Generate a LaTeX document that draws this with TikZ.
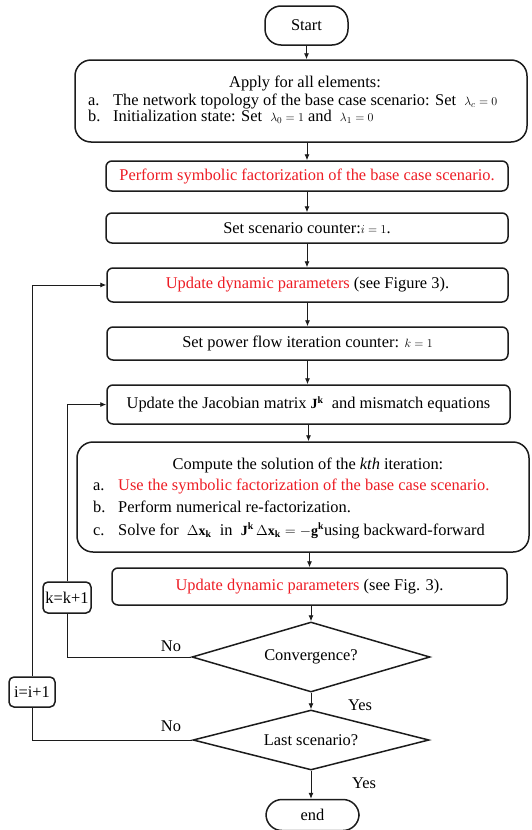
\documentclass[tikz,border=0pt]{standalone}
\usepackage{fontspec}
\setmainfont{Liberation Serif}
\usetikzlibrary{arrows.meta,shapes.geometric}
\definecolor{hl}{RGB}{237,28,36}
\definecolor{ink}{RGB}{28,28,28}
% smaller math inside the running text
\newcommand{\sm}[1]{{\fontsize{12.5}{13}\selectfont$#1$}}
\newcommand{\mm}[1]{{\fontsize{14}{14}\selectfont$#1$}}

\begin{document}
\begin{tikzpicture}[x=1pt,y=-1pt,
  every node/.style={font=\fontsize{16.4}{17}\selectfont, text=black},
  proc/.style={draw=ink, line width=1.5pt, rounded corners=6pt, inner sep=0pt, align=center},
  bigproc/.style={proc, rounded corners=16pt},
  term/.style={proc, rounded corners=16pt},
  counter/.style={proc, rounded corners=5pt},
  decision/.style={diamond, draw=ink, line width=1.5pt, inner sep=0pt, shape aspect=3.4},
  flow/.style={draw=ink, line width=0.9pt},
  arr/.style={flow, -{Latex[length=6pt,width=5pt]}},
  lbl/.style={inner sep=0pt}
]
\useasboundingbox (0,0) rectangle (532,830);

% terminals
\node[term, minimum width=83pt, minimum height=39pt] (start) at (306.5,25.5) {Start};
\node[term, minimum width=93pt, minimum height=31pt] (end) at (312.5,815) {end};

% initial block
\node[bigproc, minimum width=452pt, minimum height=82pt] (init) at (301,101) {};
\node[lbl, anchor=base] (initT) at (305,87) {Apply for all elements:};
\node[lbl, anchor=base west] (initAl) at (88,105.5) {a.};
\node[lbl, anchor=base west] (initA) at (113,105.5) {The network topology of the base case scenario: Set \ \sm{\lambda_c = 0}};
\node[lbl, anchor=base west] (initBl) at (88,121.5) {b.};
\node[lbl, anchor=base west] (initB) at (113,121.5) {Initialization state: Set \ \sm{\lambda_0 = 1}\ and \ \sm{\lambda_1 = 0}};

\node[proc, minimum width=402pt, minimum height=30pt, text=hl] (symb) at (307,176)
  {Perform symbolic factorization of the base case scenario.};
\node[proc, minimum width=402pt, minimum height=30pt] (scen) at (307,228)
  {Set scenario counter:\sm{i=1}.};
\node[proc, minimum width=401pt, minimum height=34pt] (dyn) at (307.5,285)
  {\textcolor{hl}{Update dynamic parameters} (see Figure 3).};
\node[proc, minimum width=401pt, minimum height=33pt] (iter) at (307.5,343.5)
  {Set power flow iteration counter: \sm{k=1}};
\node[proc, minimum width=403pt, minimum height=39pt] (jac) at (308.5,404.5)
  {Update the Jacobian matrix \mm{\mathbf{J}^{\mathbf{k}}}\ \ and mismatch equations};

% solution block
\node[bigproc, minimum width=452pt, minimum height=110pt] (sol) at (303,497) {};
\node[lbl, anchor=base] (solT) at (308,469) {Compute the solution of the \textit{kth} iteration:};
\node[lbl, anchor=base west] (solAl) at (93,490.5) {a.};
\node[lbl, anchor=base west, text=hl] (solA) at (118,490.5) {Use the symbolic factorization of the base case scenario.};
\node[lbl, anchor=base west] (solBl) at (93,512.5) {b.};
\node[lbl, anchor=base west] (solB) at (118,512.5) {Perform numerical re-factorization.};
\node[lbl, anchor=base west] (solCl) at (93,535) {c.};
\node[lbl, anchor=base west] (solC) at (118,535)
  {Solve for \ \mm{\Delta\mathbf{x}_{\mathbf{k}}}\ \ in \ \mm{\mathbf{J}^{\mathbf{k}}\,\Delta\mathbf{x}_{\mathbf{k}} = -\mathbf{g}^{\mathbf{k}}}using backward-forward};

\node[proc, minimum width=395pt, minimum height=37pt] (dyn2) at (309.5,586.5)
  {\textcolor{hl}{Update dynamic parameters} (see Fig. 3).};

% decisions
\node[decision, minimum width=238pt, minimum height=70pt] (conv) at (311,657) {Convergence?};
\node[decision, minimum width=236pt, minimum height=60pt] (last) at (311,740) {Last scenario?};

% counters on the loops
\node[counter, minimum width=48pt, minimum height=31pt] (kinc) at (67,597.5) {k=k+1};
\node[counter, minimum width=46pt, minimum height=30pt] (iinc) at (32,692) {i=i+1};

% main flow
\draw[arr] (start.south) -- (start.south |- init.north);
\draw[arr] (symb.north |- init.south) -- (symb.north);
\draw[arr] (symb.south) -- (scen.north);
\draw[arr] (scen.south) -- (scen.south |- dyn.north);
\draw[arr] (dyn.south) -- (dyn.south |- iter.north);
\draw[arr] (iter.south) -- (iter.south |- jac.north);
\draw[arr] (jac.south) -- (jac.south |- sol.north);
\draw[arr] (dyn2.north |- sol.south) -- (dyn2.north);
\draw[arr] (conv.north |- dyn2.south) -- (conv.north);
\draw[arr] (conv.south) -- (last.north);
\draw[arr] (last.south) -- (last.south |- end.north);

% inner loop (next iteration)
\draw[flow] (conv.west) -| (kinc.south);
\draw[arr] (kinc.north) |- (jac.west);
% outer loop (next scenario)
\draw[flow] (last.west) -| (iinc.south);
\draw[arr] (iinc.north) |- (dyn.west);

% branch labels
\node[lbl, anchor=base] (no1) at (171,651) {No};
\node[lbl, anchor=base] (no2) at (171,731) {No};
\node[lbl, anchor=base] (yes1) at (360,710) {Yes};
\node[lbl, anchor=base] (yes2) at (364,788) {Yes};
\end{tikzpicture}
\end{document}
